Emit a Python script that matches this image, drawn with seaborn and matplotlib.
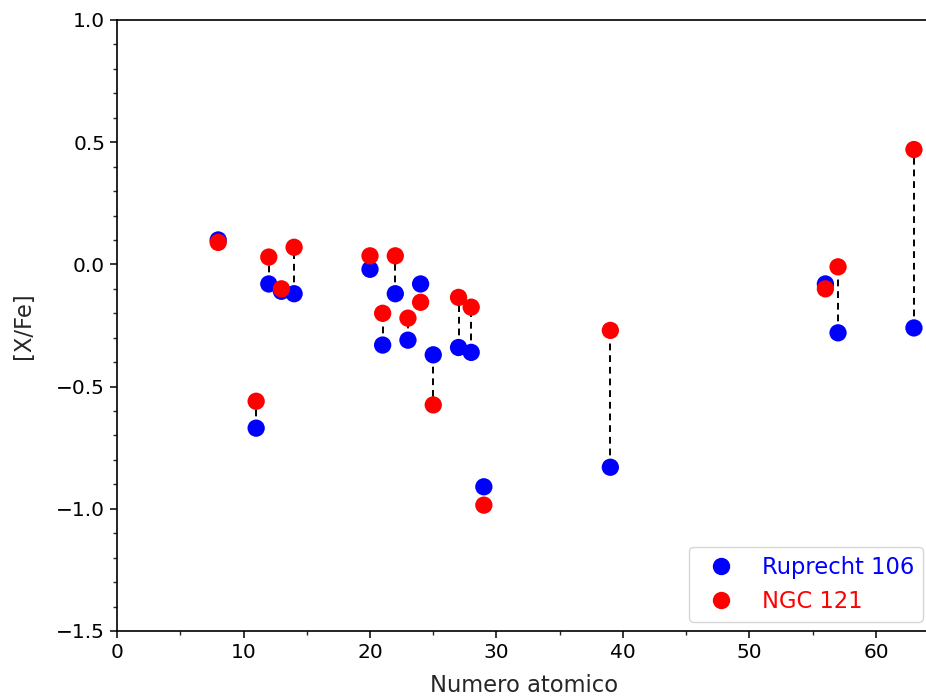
import numpy as np
import pandas as pd
import matplotlib
matplotlib.use("Agg")
import matplotlib.pyplot as plt
import seaborn as sns
from matplotlib.ticker import MultipleLocator

sns.set_style("ticks")
plt.rcParams['font.family'] = ['DejaVu Sans']

atomic_number = [8, 11, 12, 13, 14, 20, 21, 22, 23, 24, 25, 27, 28, 29, 39, 56, 57, 63]
ruprecht_106 = [0.10, -0.67, -0.08, -0.11, -0.12, -0.02, -0.33, -0.12, -0.31, -0.08, -0.37, -0.34, -0.36, -0.91, -0.83, -0.08, -0.28, -0.26]
ngc_121 = [0.09, -0.56, 0.03, -0.10, 0.07, 0.035, -0.20, 0.035, -0.22, -0.155, -0.575, -0.135, -0.175, -0.985, -0.27, -0.10, -0.01, 0.47]
series_names = ["Ruprecht 106", "NGC 121"]
series_colors = ["blue", "red"]

df = pd.DataFrame({
    "Z": atomic_number * 2,
    "val": ruprecht_106 + ngc_121,
    "cluster": [series_names[0]] * len(atomic_number) + [series_names[1]] * len(atomic_number),
})

right_px = 932
fig = plt.figure(figsize=(9.26, 6.99), dpi=100)
ax = fig.add_axes([117 / 926, 68 / 699, (right_px - 117) / 926, (631 - 20) / 699])

ax.vlines(atomic_number, ruprecht_106, ngc_121, colors="black", linestyles=(0, (3.5, 2.5)),
          linewidth=1.4, zorder=1)

sns.scatterplot(data=df, x="Z", y="val", hue="cluster", palette=dict(zip(series_names, series_colors)),
                s=155, linewidth=0, ax=ax, zorder=3, legend=False)

ax.set_xlim(0, (right_px - 117) / 12.65)
ax.set_ylim(-1.5, 1.0)
ax.xaxis.set_major_locator(MultipleLocator(10))
ax.xaxis.set_minor_locator(MultipleLocator(5))
ax.yaxis.set_major_locator(MultipleLocator(0.5))
ax.yaxis.set_minor_locator(MultipleLocator(0.1))
ax.tick_params(which="major", length=5, width=1.1, labelsize=14.5, colors="black")
ax.tick_params(which="minor", length=3, width=1.0)
for sp in ["left", "bottom", "top"]:
    ax.spines[sp].set_linewidth(1.2)
    ax.spines[sp].set_color("black")

ax.set_xlabel("Numero atomico", fontsize=16.3, labelpad=9)
ax.set_ylabel("[X/Fe]", fontsize=16.3, labelpad=15)

handles = [plt.Line2D([], [], marker="o", linestyle="", color=c, markersize=11.5) for c in series_colors]
leg = ax.legend(handles, series_names, loc="lower right", fontsize=16.3, frameon=True,
                borderaxespad=0.4, handletextpad=0.8, labelspacing=0.5)
for t, c in zip(leg.get_texts(), series_colors):
    t.set_color(c)

fig.savefig("out.png", dpi=100)
